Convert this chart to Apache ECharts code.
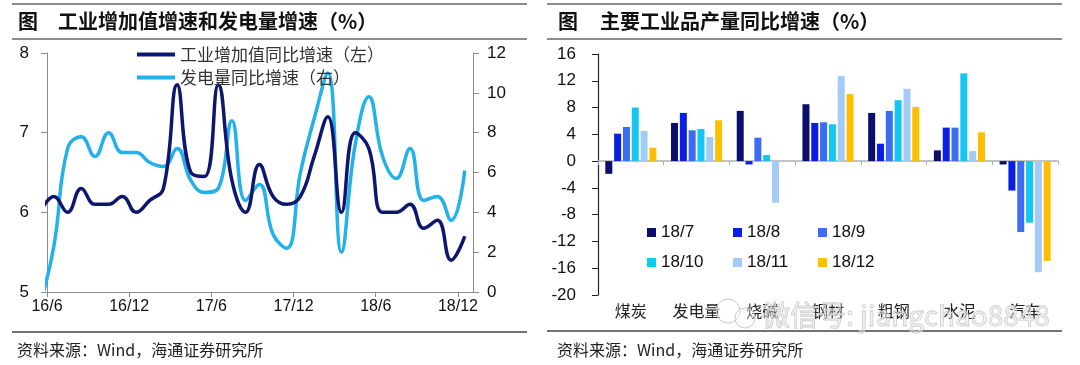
<!DOCTYPE html>
<html>
<head>
<meta charset="utf-8">
<script src="https://cdn.jsdelivr.net/npm/echarts@6/dist/echarts.min.js"></script>
<style>
html,body{margin:0;padding:0;background:#fff;}
#c{width:1080px;height:365px;}
</style>
</head>
<body>
<div id="c"></div>
<script>
// ---------- Left chart data ----------
const lineMonths = ['16/5','16/6','16/7','16/8','16/9','16/10','16/11','16/12',
  '17/1','17/2','17/3','17/4','17/5','17/6','17/7','17/8','17/9','17/10','17/11','17/12',
  '18/1','18/2','18/3','18/4','18/5','18/6','18/7','18/8','18/9','18/10','18/11','18/12'];
const ipGrowth = [6.0, 6.2, 6.0, 6.3, 6.1, 6.1, 6.2, 6.0,
  6.15, 6.3, 7.6, 6.5, 6.45, 7.6, 6.4, 6.0, 6.6, 6.2, 6.1, 6.2,
  6.7, 7.2, 6.0, 7.0, 6.8, 6.0, 6.0, 6.1, 5.8, 5.9, 5.4, 5.7];
const powerGrowth = [-0.6, 2.3, 7.2, 7.8, 6.8, 8.0, 7.0, 7.0,
  6.5, 6.3, 7.2, 5.6, 5.0, 5.2, 8.6, 4.6, 5.4, 2.9, 2.2, 6.0,
  8.7, 11.0, 2.0, 7.4, 9.8, 6.8, 5.7, 7.2, 4.6, 4.8, 3.6, 6.1];
const xTickLabels = ['16/6','16/12','17/6','17/12','18/6','18/12'];
const leftNames = ['工业增加值同比增速（左）','发电量同比增速（右）'];

// ---------- Right chart data ----------
const barCategories = ['煤炭','发电量','烧碱','钢材','粗钢','水泥','汽车'];
const barNames = ['18/7','18/8','18/9','18/10','18/11','18/12'];
const s18_7  = [-1.9, 5.7, 7.5, 8.5, 7.2, 1.6, -0.5];
const s18_8  = [4.1, 7.2, -0.5, 5.7, 2.6, 5.0, -4.4];
const s18_9  = [5.1, 4.6, 3.5, 5.8, 7.5, 5.0, -10.6];
const s18_10 = [8.0, 4.8, 0.9, 5.5, 9.1, 13.1, -9.2];
const s18_11 = [4.5, 3.6, -6.2, 12.7, 10.8, 1.5, -16.6];
const s18_12 = [2.0, 6.1, null, 10.0, 8.1, 4.3, -14.9];

const titleLeft = '工业增加值增速和发电量增速（%）';
const titleRight = '主要工业品产量同比增速（%）';
const sourceText = '资料来源：Wind，海通证券研究所';

const barSeriesValues = [s18_7, s18_8, s18_9, s18_10, s18_11, s18_12];
const barColors = ['#0b0f6b', '#0a1ee6', '#3b6cf2', '#14c6f2', '#a3cbf5', '#ffbf00'];
const lineColors = ['#0d1770', '#22b1e8'];

const cjk = '"Noto Sans CJK SC", sans-serif';
const latin = '"Liberation Sans", Arial, sans-serif';

const toXY = arr => arr.map((v, i) => [i - 0.5, v]);

const chart = echarts.init(document.getElementById('c'), null, {renderer: 'canvas'});

const legendPos = [[647, 224], [733, 224], [818, 224], [647, 254], [733, 254], [818, 254]];

const option = {
  backgroundColor: '#fff',
  animation: false,
  grid: [
    {left: 47, top: 53, width: 426, height: 239, containLabel: false},
    {left: 598, top: 54, width: 460, height: 241, containLabel: false}
  ],
  legend: [
    {data: [leftNames[0]], left: 137, top: 46, padding: 0, icon: 'rect', itemWidth: 38, itemHeight: 4,
     textStyle: {fontFamily: cjk, fontSize: 17, color: '#333'}},
    {data: [leftNames[1]], left: 137, top: 69, padding: 0, icon: 'rect', itemWidth: 38, itemHeight: 4,
     textStyle: {fontFamily: cjk, fontSize: 17, color: '#333'}}
  ].concat(barNames.map((n, i) => ({
    data: [n], left: legendPos[i][0], top: legendPos[i][1], padding: 0, icon: 'rect',
    itemWidth: 9, itemHeight: 9, textStyle: {fontFamily: latin, fontSize: 17, color: '#111'}
  }))),
  xAxis: [
    {type: 'value', gridIndex: 0, min: 0, max: 31.1, interval: 6, position: 'bottom',
     axisLine: {show: true, onZero: false, lineStyle: {color: '#8c8c8c', width: 1}},
     axisTick: {show: true, length: 5, lineStyle: {color: '#8c8c8c'}},
     axisLabel: {show: true, margin: 7, fontFamily: latin, fontSize: 16, color: '#111',
       showMaxLabel: false,
       formatter: v => (Math.abs(v / 6 - Math.round(v / 6)) < 1e-6 && xTickLabels[Math.round(v / 6)]) || ''},
     splitLine: {show: false}},
    {type: 'category', gridIndex: 1, data: barCategories, position: 'bottom',
     axisLine: {show: false, onZero: false}, axisTick: {show: false},
     axisLabel: {margin: 8, fontFamily: cjk, fontSize: 16, color: '#222'},
     splitLine: {show: false}},
    {type: 'category', gridIndex: 1, data: barCategories, position: 'bottom',
     axisLine: {show: true, onZero: true, lineStyle: {color: '#b0b0b0', width: 1.5}},
     axisTick: {show: true, length: 4, lineStyle: {color: '#b0b0b0'}},
     axisLabel: {show: false}, splitLine: {show: false}}
  ],
  yAxis: [
    {type: 'value', gridIndex: 0, position: 'left', min: 5, max: 8, interval: 1,
     axisLine: {show: true, lineStyle: {color: '#8c8c8c', width: 1}},
     axisTick: {show: true, length: 6, lineStyle: {color: '#8c8c8c'}},
     axisLabel: {margin: 18, fontFamily: latin, fontSize: 17, color: '#111'},
     splitLine: {show: false}},
    {type: 'value', gridIndex: 0, position: 'right', min: 0, max: 12, interval: 2,
     axisLine: {show: true, lineStyle: {color: '#8c8c8c', width: 1}},
     axisTick: {show: true, length: 6, lineStyle: {color: '#8c8c8c'}},
     axisLabel: {margin: 14, fontFamily: latin, fontSize: 17, color: '#111'},
     splitLine: {show: false}},
    {type: 'value', gridIndex: 1, position: 'left', min: -20, max: 16, interval: 4,
     axisLine: {show: true, lineStyle: {color: '#222', width: 1.2}},
     axisTick: {show: true, length: 6, lineStyle: {color: '#222'}},
     axisLabel: {margin: 22, fontFamily: latin, fontSize: 17, color: '#111'},
     splitLine: {show: false}}
  ],
  series: [
    {name: leftNames[0], type: 'line', xAxisIndex: 0, yAxisIndex: 0, data: toXY(ipGrowth),
     smooth: 0.45, showSymbol: false, clip: true, z: 3,
     lineStyle: {color: lineColors[0], width: 3.5}, itemStyle: {color: lineColors[0]}},
    {name: leftNames[1], type: 'line', xAxisIndex: 0, yAxisIndex: 1, data: toXY(powerGrowth),
     smooth: 0.45, showSymbol: false, clip: true, z: 2,
     lineStyle: {color: lineColors[1], width: 3.5}, itemStyle: {color: lineColors[1]}}
  ].concat(barNames.map((n, i) => ({
    name: n, type: 'bar', xAxisIndex: 1, yAxisIndex: 2, data: barSeriesValues[i],
    barWidth: 7, barGap: '26%', itemStyle: {color: barColors[i]}
  }))),
  graphic: [
    // left panel
    {type: 'line', shape: {x1: 12, y1: 4, x2: 527, y2: 4}, style: {stroke: '#666', lineWidth: 1.5}},
    {type: 'line', shape: {x1: 12, y1: 39, x2: 527, y2: 39}, style: {stroke: '#666', lineWidth: 1.5}},
    {type: 'line', shape: {x1: 12, y1: 332, x2: 527, y2: 332}, style: {stroke: '#444', lineWidth: 1.5}},
    {type: 'text', x: 18, y: 21, style: {text: '图', font: 'bold 20px ' + cjk, fill: '#111', textVerticalAlign: 'middle'}},
    {type: 'text', x: 58, y: 21, style: {text: titleLeft, font: 'bold 20px ' + cjk, fill: '#111', textVerticalAlign: 'middle'}},
    {type: 'text', x: 17, y: 350, style: {text: sourceText, font: '16px ' + cjk, fill: '#222', textVerticalAlign: 'middle'}},
    // right panel
    {type: 'line', shape: {x1: 547, y1: 4, x2: 1062, y2: 4}, style: {stroke: '#666', lineWidth: 1.5}},
    {type: 'line', shape: {x1: 547, y1: 39, x2: 1062, y2: 39}, style: {stroke: '#666', lineWidth: 1.5}},
    {type: 'line', shape: {x1: 547, y1: 331, x2: 1062, y2: 331}, style: {stroke: '#444', lineWidth: 1.5}},
    {type: 'text', x: 558, y: 21, style: {text: '图', font: 'bold 20px ' + cjk, fill: '#111', textVerticalAlign: 'middle'}},
    {type: 'text', x: 600, y: 21, style: {text: titleRight, font: 'bold 20px ' + cjk, fill: '#111', textVerticalAlign: 'middle'}},
    {type: 'text', x: 557, y: 350, style: {text: sourceText, font: '16px ' + cjk, fill: '#222', textVerticalAlign: 'middle'}},
    // watermark
    {type: 'circle', shape: {cx: 728, cy: 311, r: 12}, style: {fill: 'rgba(255,255,255,0.3)', stroke: '#c8c8c8', lineWidth: 1}, z: 100},
    {type: 'circle', shape: {cx: 745, cy: 318, r: 10}, style: {fill: 'rgba(255,255,255,0.3)', stroke: '#c8c8c8', lineWidth: 1}, z: 100},
    {type: 'text', x: 762, y: 315, z: 100, style: {text: '微信号: jiangchao8848', font: '28px ' + cjk,
      fill: 'rgba(230,230,230,0.45)', stroke: '#c4c4c4', lineWidth: 0.8, textVerticalAlign: 'middle'}}
  ]
};
chart.setOption(option);
</script>
</body>
</html>
